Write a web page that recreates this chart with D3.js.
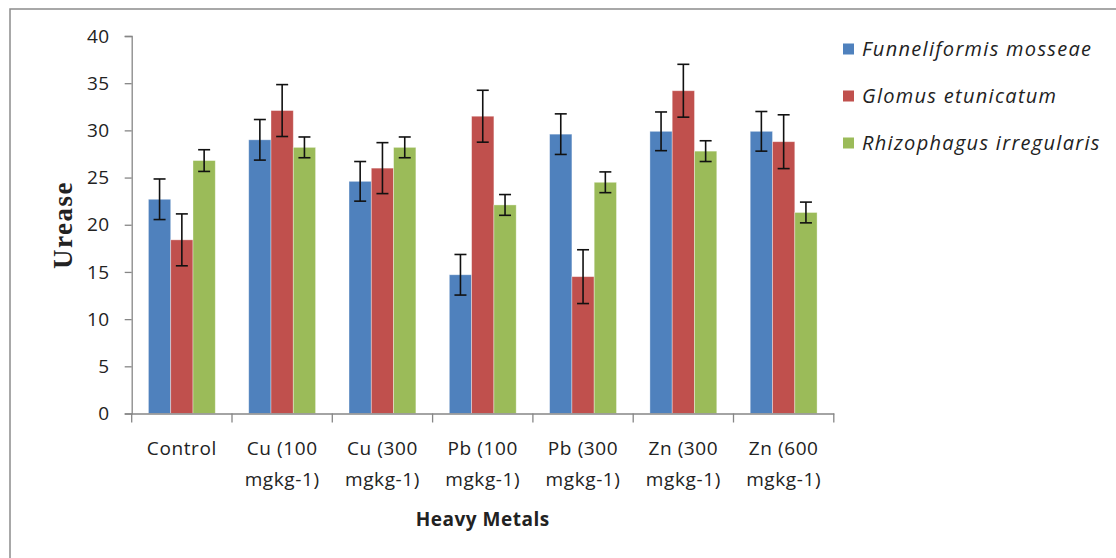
<!DOCTYPE html>
<meta charset="utf-8">
<script src="https://d3js.org/d3.v7.min.js"></script>
<style>
  body { margin: 0; background: #fff; }
  text { font-family: "Open Sans", sans-serif; fill: #222; }
</style>
<div id="chart"></div>
<script>

// categories (two-line labels)
var categories = ["Control", "Cu (100 mgkg-1)", "Cu (300 mgkg-1)", "Pb (100 mgkg-1)",
                  "Pb (300 mgkg-1)", "Zn (300 mgkg-1)", "Zn (600 mgkg-1)"];
var labelLines = [["Control"], ["Cu (100", "mgkg-1)"], ["Cu (300", "mgkg-1)"], ["Pb (100", "mgkg-1)"],
                  ["Pb (300", "mgkg-1)"], ["Zn (300", "mgkg-1)"], ["Zn (600", "mgkg-1)"]];

var seriesNames = ["Funneliformis mosseae", "Glomus etunicatum", "Rhizophagus irregularis"];

// mean values per series
var funneliformis = [22.7, 29.0, 24.6, 14.7, 29.6, 29.9, 29.9];
var glomus        = [18.4, 32.1, 26.0, 31.5, 14.5, 34.2, 28.8];
var rhizophagus   = [26.8, 28.2, 28.2, 22.1, 24.5, 27.8, 21.3];

// error bar half-widths
var funneliformisErr = [2.15, 2.15, 2.1, 2.15, 2.15, 2.05, 2.1];
var glomusErr        = [2.75, 2.75, 2.7, 2.75, 2.85, 2.8, 2.85];
var rhizophagusErr   = [1.15, 1.1, 1.1, 1.1, 1.1, 1.1, 1.1];

var yTicks = [0, 5, 10, 15, 20, 25, 30, 35, 40];
var colors = ["#4f81bd", "#c0504d", "#9bbb59"];

var values = [funneliformis, glomus, rhizophagus];
var errors = [funneliformisErr, glomusErr, rhizophagusErr];

var W = 1116, H = 558;
var svg = d3.select("#chart").append("svg")
    .attr("width", W)
    .attr("height", H);

// outer frame
svg.append("rect")
    .attr("x", 10).attr("y", 9)
    .attr("width", W + 20).attr("height", H + 20)
    .attr("fill", "none")
    .attr("stroke", "#8c8c8c")
    .attr("stroke-width", 1.5);

var plotLeft = 131.7, plotRight = 833.8, plotTop = 36, plotBottom = 413.5;

var x = d3.scaleBand().domain(categories).range([plotLeft, plotRight]).padding(0);
var xs = d3.scaleBand().domain(d3.range(3))
    .range([x.bandwidth() / 6, x.bandwidth() * 5 / 6]).padding(0);
var y = d3.scaleLinear().domain([0, 40]).range([plotBottom, plotTop]);

// bars
var rows = [];
categories.forEach(function(c, i) {
  for (var s = 0; s < 3; s++) {
    rows.push({cat: c, s: s, v: values[s][i], e: errors[s][i]});
  }
});

svg.append("g").selectAll("rect")
  .data(rows)
  .enter().append("rect")
    .attr("x", function(d) { return x(d.cat) + xs(d.s); })
    .attr("y", function(d) { return y(d.v); })
    .attr("width", xs.bandwidth())
    .attr("height", function(d) { return y(0) - y(d.v); })
    .attr("fill", function(d) { return colors[d.s]; })
    .attr("stroke", "rgba(255,255,255,0.45)")
    .attr("stroke-width", 0.8);

// error bars
var eb = svg.append("g").attr("stroke", "#111").attr("stroke-width", 1.6);
rows.forEach(function(d) {
  var cx = x(d.cat) + xs(d.s) + xs.bandwidth() / 2;
  eb.append("line").attr("x1", cx).attr("x2", cx)
    .attr("y1", y(d.v + d.e)).attr("y2", y(d.v - d.e));
  [d.v + d.e, d.v - d.e].forEach(function(v) {
    eb.append("line").attr("x1", cx - 6).attr("x2", cx + 6)
      .attr("y1", y(v)).attr("y2", y(v));
  });
});

// y axis
var yAxis = svg.append("g")
    .attr("transform", "translate(" + plotLeft + ",0)")
    .call(d3.axisLeft(y).tickValues(yTicks).tickSize(7).tickPadding(15));
yAxis.selectAll("text")
    .style("font-size", "19px")
    .style("letter-spacing", "0.5px")
    .attr("fill", "#222");

// x axis
var xAxis = svg.append("g")
    .attr("transform", "translate(0," + plotBottom + ")")
    .call(d3.axisBottom(x).tickSize(0).tickFormat(""));
xAxis.selectAll(".tick").remove();
xAxis.selectAll(".sep")
  .data(categories.concat(["end"]))
  .enter().append("line")
    .attr("class", "sep")
    .attr("x1", function(d, i) { return i < categories.length ? x(d) : plotRight; })
    .attr("x2", function(d, i) { return i < categories.length ? x(d) : plotRight; })
    .attr("y1", 0).attr("y2", 9);

svg.selectAll(".domain, .tick line, .sep").attr("stroke", "#868686").attr("stroke-width", 1.3);

// x labels
var xl = svg.append("g");
categories.forEach(function(c, i) {
  var t = xl.append("text")
      .attr("text-anchor", "middle")
      .style("font-size", "19px")
      .style("letter-spacing", "0.6px");
  labelLines[i].forEach(function(line, j) {
    t.append("tspan")
      .attr("x", x(c) + x.bandwidth() / 2)
      .attr("y", 455 + j * 31)
      .text(line);
  });
});

// axis titles
svg.append("text")
    .attr("x", (plotLeft + plotRight) / 2)
    .attr("y", 526)
    .attr("text-anchor", "middle")
    .style("font-size", "19px")
    .style("font-weight", "bold")
    .style("letter-spacing", "0.5px")
    .text("Heavy Metals");

svg.append("text")
    .attr("transform", "translate(72,225) rotate(-90)")
    .attr("text-anchor", "middle")
    .style("font-family", "'Liberation Serif', serif")
    .style("font-size", "27px")
    .style("font-weight", "bold")
    .style("letter-spacing", "1.5px")
    .text("Urease");

// legend
var legend = svg.append("g");
seriesNames.forEach(function(name, i) {
  var ly = 49 + i * 47;
  legend.append("rect")
    .attr("x", 843).attr("y", ly - 5.5)
    .attr("width", 11).attr("height", 11)
    .attr("fill", colors[i]);
  legend.append("text")
    .attr("x", 862).attr("y", ly)
    .attr("dy", "0.35em")
    .style("font-size", "20px")
    .style("font-style", "italic")
    .style("letter-spacing", "1.3px")
    .text(name);
});

</script>
